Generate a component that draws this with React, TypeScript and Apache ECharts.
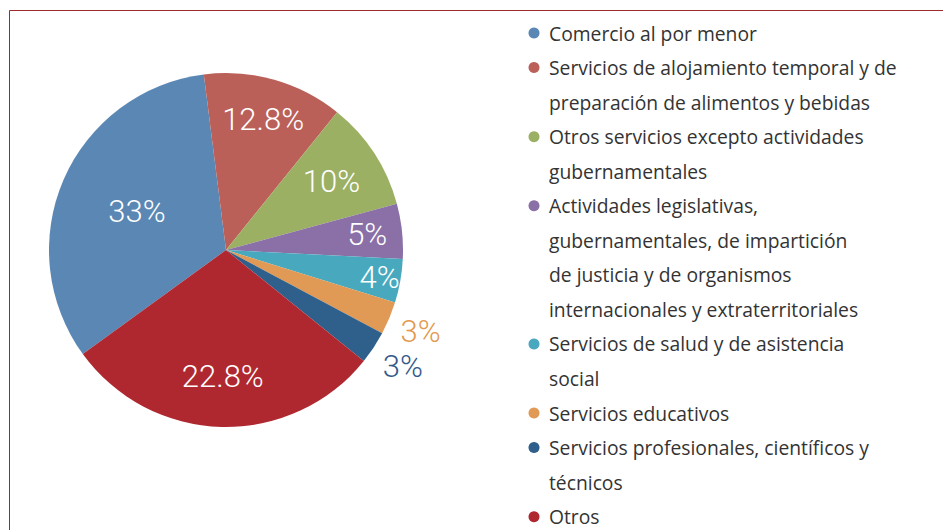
import React, { useEffect, useRef } from "react";
import * as echarts from "echarts";

const categories = [
  "Comercio al por menor",
  "Servicios de alojamiento temporal y de preparación de alimentos y bebidas",
  "Otros servicios excepto actividades gubernamentales",
  "Actividades legislativas, gubernamentales, de impartición de justicia y de organismos internacionales y extraterritoriales",
  "Servicios de salud y de asistencia social",
  "Servicios educativos",
  "Servicios profesionales, científicos y técnicos",
  "Otros",
];

// slice sizes as drawn in the picture (the "Otros" wedge is drawn larger than its printed label)
const shares = [33, 12.8, 10, 5, 4, 3, 3, 29.2];

// printed percentage labels
const percentLabels = ["33%", "12.8%", "10%", "5%", "4%", "3%", "3%", "22.8%"];

// legend text as wrapped in the picture
const legendLines = [
  ["Comercio al por menor"],
  ["Servicios de alojamiento temporal y de", "preparación de alimentos y bebidas"],
  ["Otros servicios excepto actividades", "gubernamentales"],
  [
    "Actividades legislativas,",
    "gubernamentales, de impartición",
    "de justicia y de organismos",
    "internacionales y extraterritoriales",
  ],
  ["Servicios de salud y de asistencia", "social"],
  ["Servicios educativos"],
  ["Servicios profesionales, científicos y", "técnicos"],
  ["Otros"],
];

const colors = ["#5b87b4", "#bb5f59", "#9bb063", "#8a70a6", "#48a9be", "#e09a55", "#2f5f8b", "#b0282f"];
const labelColors = ["#ffffff", "#ffffff", "#ffffff", "#ffffff", "#ffffff", "#e3994f", "#33598a", "#ffffff"];
const labelRadius = [94, 133, 123, 139, 153, 208, 209, 124];

const CENTER = [226, 250];
const R = 177;
const START = 216;

export default function App() {
  const ref = useRef<HTMLDivElement>(null);
  useEffect(() => {
    if (!ref.current) return;
    const chart = echarts.init(ref.current, undefined, { renderer: "svg" });
    const data = categories.map((name, i) => ({ name, value: shares[i], itemStyle: { color: colors[i] } }));

    const labelSeries = categories.map((_, k) => ({
      type: "pie",
      silent: true,
      center: CENTER,
      radius: [0, labelRadius[k] * 2],
      startAngle: START,
      clockwise: true,
      avoidLabelOverlap: false,
      minShowLabelAngle: 0,
      itemStyle: { color: "transparent", borderWidth: 0 },
      labelLine: { show: false },
      emphasis: { disabled: true },
      z: 5,
      data: categories.map((name, i) => ({
        name,
        value: shares[i],
        itemStyle: { color: "transparent" },
        label: {
          show: i === k,
          position: "inside",
          formatter: percentLabels[i],
          color: labelColors[i],
          fontSize: 31,
          fontFamily: "Roboto",
          fontWeight: 300,
        },
      })),
    }));

    const graphics: any[] = [
      {
        type: "rect",
        silent: true,
        shape: { x: 9.5, y: 10.5, width: 1000, height: 1000 },
        style: { fill: "none", stroke: "#9e2a2b", lineWidth: 1 },
      },
    ];
    let line = 0;
    const y0 = 33;
    const pitch = 34.55;
    legendLines.forEach((lines, i) => {
      graphics.push({
        type: "circle",
        silent: true,
        shape: { cx: 534, cy: y0 + pitch * line, r: 5.5 },
        style: { fill: colors[i] },
      });
      lines.forEach((t) => {
        graphics.push({
          type: "text",
          silent: true,
          x: 549,
          y: y0 + pitch * line,
          style: {
            text: t,
            fontSize: 19.3,
            fontFamily: "Open Sans",
            fill: "#333333",
            verticalAlign: "middle",
            align: "left",
          },
        });
        line++;
      });
    });

    chart.setOption({
      animation: false,
      backgroundColor: "#ffffff",
      series: [
        {
          type: "pie",
          silent: true,
          center: CENTER,
          radius: [0, R],
          startAngle: START,
          clockwise: true,
          label: { show: false },
          labelLine: { show: false },
          emphasis: { disabled: true },
          itemStyle: { borderWidth: 0 },
          data,
        },
        ...labelSeries,
      ],
      graphic: graphics,
    });
    return () => chart.dispose();
  }, []);
  return (
    <div
      ref={ref}
      style={{ position: "absolute", left: 0, top: 0, width: 943, height: 530 }}
    />
  );
}
